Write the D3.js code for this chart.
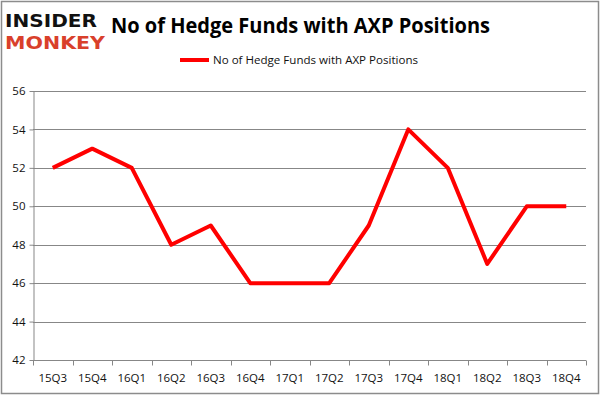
<!DOCTYPE html>
<html>
<head>
<meta charset="utf-8">
<script src="https://cdn.jsdelivr.net/npm/d3@7"></script>
<style>
  body { margin: 0; background: #fff; }
  svg { display: block; }
</style>
</head>
<body>
<div id="chart"></div>
<script>
const quarters = ["15Q3", "15Q4", "16Q1", "16Q2", "16Q3", "16Q4", "17Q1", "17Q2", "17Q3", "17Q4", "18Q1", "18Q2", "18Q3", "18Q4"]
const fundCounts = [52, 53, 52, 48, 49, 46, 46, 46, 49, 54, 52, 47, 50, 50]
const yTicks = [42, 44, 46, 48, 50, 52, 54, 56]
const seriesName = "No of Hedge Funds with AXP Positions"

const width = 601
const height = 396
const margin = { left: 33, right: 15, top: 91, bottom: 36 }

const svg = d3.select("#chart")
  .append("svg")
  .attr("width", width)
  .attr("height", height)
  .style("font-family", "'Open Sans', 'DejaVu Sans', sans-serif")

// outer frame
svg.append("rect")
  .attr("x", 1.5).attr("y", 1.5)
  .attr("width", width - 4).attr("height", height - 4)
  .attr("fill", "#fff")
  .attr("stroke", "#8c8c8c")
  .attr("stroke-width", 1.5)

// logo
svg.append("text")
  .attr("x", 5).attr("y", 27)
  .attr("textLength", 92).attr("lengthAdjust", "spacingAndGlyphs")
  .attr("font-family", "'DejaVu Sans', sans-serif")
  .attr("font-weight", 900).attr("font-size", 18)
  .attr("fill", "#111")
  .text("INSIDER")
svg.append("text")
  .attr("x", 5).attr("y", 48.5)
  .attr("textLength", 100).attr("lengthAdjust", "spacingAndGlyphs")
  .attr("font-family", "'DejaVu Sans', sans-serif")
  .attr("font-weight", 900).attr("font-size", 18)
  .attr("fill", "#d9402b")
  .text("MONKEY")

// title
svg.append("text")
  .attr("x", 111).attr("y", 33)
  .attr("textLength", 379).attr("lengthAdjust", "spacingAndGlyphs")
  .attr("font-weight", 700).attr("font-size", 21)
  .attr("fill", "#000")
  .text(seriesName)

// legend
svg.append("line")
  .attr("x1", 180).attr("x2", 209)
  .attr("y1", 60).attr("y2", 60)
  .attr("stroke", "#ff0000").attr("stroke-width", 4)
svg.append("text")
  .attr("x", 213).attr("y", 64)
  .attr("textLength", 205).attr("lengthAdjust", "spacingAndGlyphs")
  .attr("font-size", 11.5)
  .attr("fill", "#111")
  .text(seriesName)

const x = d3.scaleBand()
  .domain(quarters)
  .range([margin.left, width - margin.right])

const y = d3.scaleLinear()
  .domain([42, 56])
  .range([height - margin.bottom, margin.top])

// gridlines
svg.append("g")
  .selectAll("line")
  .data(yTicks.slice(1))
  .join("line")
  .attr("x1", margin.left).attr("x2", width - margin.right)
  .attr("y1", d => Math.round(y(d)) + 0.5).attr("y2", d => Math.round(y(d)) + 0.5)
  .attr("stroke", "#878787").attr("stroke-width", 1)

// y axis
const yAxis = svg.append("g")
  .attr("transform", `translate(${margin.left + 0.5},0)`)
  .call(d3.axisLeft(y).tickValues(yTicks).tickSize(4).tickPadding(4).tickSizeOuter(0))
yAxis.select(".domain").attr("stroke", "#878787")
yAxis.selectAll(".tick line").attr("stroke", "#878787")
yAxis.selectAll(".tick text")
  .attr("font-family", "'Open Sans', sans-serif")
  .attr("font-size", 11.5).attr("fill", "#111")

// x axis with ticks at band boundaries
const xAxisY = Math.round(y(42)) + 0.5
svg.append("line")
  .attr("x1", margin.left).attr("x2", width - margin.right)
  .attr("y1", xAxisY).attr("y2", xAxisY)
  .attr("stroke", "#878787")
const boundaries = quarters.map(q => x(q)).concat([x(quarters[quarters.length - 1]) + x.bandwidth()])
svg.append("g")
  .selectAll("line")
  .data(boundaries)
  .join("line")
  .attr("x1", d => Math.round(d) + 0.5).attr("x2", d => Math.round(d) + 0.5)
  .attr("y1", xAxisY).attr("y2", xAxisY + 5)
  .attr("stroke", "#878787")
svg.append("g")
  .selectAll("text")
  .data(quarters)
  .join("text")
  .attr("x", d => x(d) + x.bandwidth() / 2)
  .attr("y", xAxisY + 21)
  .attr("text-anchor", "middle")
  .attr("font-size", 11.5)
  .attr("fill", "#111")
  .text(d => d)

// series line
const line = d3.line()
  .x((d, i) => x(quarters[i]) + x.bandwidth() / 2)
  .y(d => y(d))

svg.append("path")
  .datum(fundCounts)
  .attr("d", line)
  .attr("fill", "none")
  .attr("stroke", "#ff0000")
  .attr("stroke-width", 4)
  .attr("stroke-linejoin", "round")
</script>
</body>
</html>
